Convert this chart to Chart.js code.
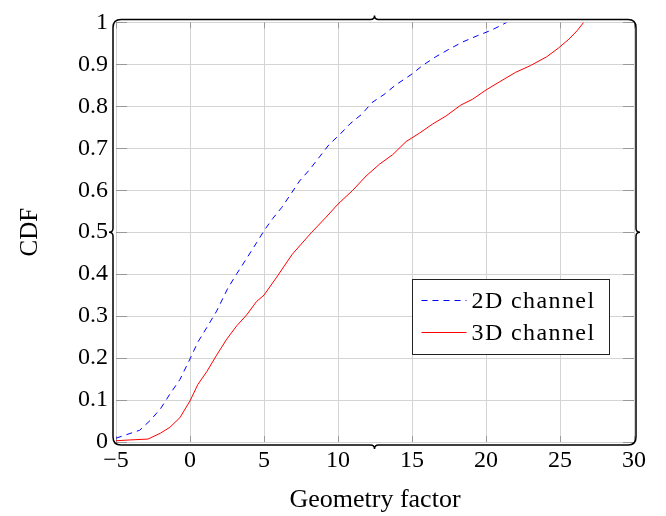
<!DOCTYPE html>
<html>
<head>
<meta charset="utf-8">
<script src="https://cdn.jsdelivr.net/npm/chart.js@4"></script>
<style>
  html, body { margin: 0; padding: 0; background: #fff; }
  #wrap { width: 666px; height: 516px; }
</style>
</head>
<body>
<div id="wrap"><canvas id="cdfChart" width="666" height="516"></canvas></div>
<script>
// values
const x2D = [-5, -4.5, -3.4, -2.7, -2.0, -1.36, -0.68, 0, 0.53, 1.14, 1.8, 2.55, 3.16, 3.8, 4.5, 5.05, 5.6, 6.2, 6.87, 7.4, 8.1, 8.76, 9.4, 10.1, 10.8, 11.6, 12.3, 13.1, 13.9, 15, 15.7, 16.6, 17.5, 18.4, 19.4, 20.4, 21.4];
const cdf2D = [0.009, 0.015, 0.028, 0.051, 0.079, 0.114, 0.149, 0.198, 0.238, 0.273, 0.312, 0.366, 0.401, 0.436, 0.475, 0.506, 0.533, 0.559, 0.594, 0.622, 0.65, 0.68, 0.709, 0.732, 0.758, 0.781, 0.809, 0.828, 0.851, 0.877, 0.897, 0.918, 0.936, 0.953, 0.968, 0.982, 1.0];

const x3D = [-5, -4, -2.84, -2.0, -1.36, -0.68, 0, 0.53, 1.14, 1.8, 2.48, 3.16, 3.83, 4.5, 5.0, 5.86, 6.9, 8.2, 9.2, 10, 11, 11.9, 12.8, 13.7, 14.6, 15.5, 16.4, 17.3, 18.3, 19.1, 20, 20.9, 22.0, 23.0, 24.1, 24.9, 25.6, 26.15, 26.6];
const cdf3D = [0.003, 0.005, 0.007, 0.021, 0.035, 0.058, 0.098, 0.137, 0.168, 0.207, 0.245, 0.277, 0.303, 0.335, 0.35, 0.393, 0.447, 0.499, 0.536, 0.567, 0.6, 0.634, 0.662, 0.685, 0.716, 0.736, 0.758, 0.777, 0.803, 0.817, 0.839, 0.858, 0.881, 0.897, 0.918, 0.939, 0.96, 0.98, 1.0];

const seriesNames = ['2D channel', '3D channel'];
const xTicks = [-5, 0, 5, 10, 15, 20, 25, 30];
const yTicks = [0, 0.1, 0.2, 0.3, 0.4, 0.5, 0.6, 0.7, 0.8, 0.9, 1];

const serif = '"Liberation Serif", "DejaVu Serif", serif';
const toPoints = (xs, ys) => xs.map((x, i) => ({ x: x, y: ys[i] }));

// frame with braces, inner tick marks and the legend box
const decor = {
  id: 'decor',
  beforeDatasetsDraw(chart) {
    const { ctx, chartArea: a, scales } = chart;
    ctx.save();
    ctx.strokeStyle = '#999';
    ctx.lineWidth = 1;
    ctx.beginPath();
    xTicks.forEach(v => {
      const px = Math.round(scales.x.getPixelForValue(v)) + 0.5;
      ctx.moveTo(px, a.top); ctx.lineTo(px, a.top + 6);
      ctx.moveTo(px, a.bottom); ctx.lineTo(px, a.bottom - 6);
    });
    yTicks.forEach(v => {
      const py = Math.round(scales.y.getPixelForValue(v)) + 0.5;
      ctx.moveTo(a.left, py); ctx.lineTo(a.left + 11, py);
      ctx.moveTo(a.right, py); ctx.lineTo(a.right - 11, py);
    });
    ctx.stroke();
    ctx.restore();
  },
  afterDraw(chart) {
    const { ctx, chartArea: a } = chart;
    const L = a.left - 3, R = a.right + 2, T = a.top - 3, B = a.bottom + 3;
    const r = 8, t = 4;
    const mx = (L + R) / 2, my = (T + B) / 2;
    ctx.save();
    ctx.strokeStyle = '#000';
    ctx.lineWidth = 1.5;
    ctx.beginPath();
    // top
    ctx.moveTo(L, T + r);
    ctx.quadraticCurveTo(L, T, L + r, T);
    ctx.lineTo(mx - t, T);
    ctx.quadraticCurveTo(mx, T, mx, T - t);
    ctx.quadraticCurveTo(mx, T, mx + t, T);
    ctx.lineTo(R - r, T);
    ctx.quadraticCurveTo(R, T, R, T + r);
    // right
    ctx.lineTo(R, my - t);
    ctx.quadraticCurveTo(R, my, R + t, my);
    ctx.quadraticCurveTo(R, my, R, my + t);
    ctx.lineTo(R, B - r);
    ctx.quadraticCurveTo(R, B, R - r, B);
    // bottom
    ctx.lineTo(mx + t, B);
    ctx.quadraticCurveTo(mx, B, mx, B + t);
    ctx.quadraticCurveTo(mx, B, mx - t, B);
    ctx.lineTo(L + r, B);
    ctx.quadraticCurveTo(L, B, L, B - r);
    // left
    ctx.lineTo(L, my + t);
    ctx.quadraticCurveTo(L, my, L - t, my);
    ctx.quadraticCurveTo(L, my, L, my - t);
    ctx.closePath();
    ctx.stroke();

    // legend
    const bx = 412.5, by = 279.5, bw = 197, bh = 75;
    ctx.fillStyle = '#fff';
    ctx.fillRect(bx, by, bw, bh);
    ctx.strokeStyle = '#222';
    ctx.lineWidth = 1;
    ctx.strokeRect(bx, by, bw, bh);
    ctx.font = '24px ' + serif;
    ctx.letterSpacing = '1.4px';
    ctx.textBaseline = 'middle';
    ctx.fillStyle = '#000';
    chart.data.datasets.forEach((ds, i) => {
      const cy = by + 21 + i * 32;
      ctx.save();
      ctx.strokeStyle = ds.borderColor;
      ctx.lineWidth = 1;
      ctx.setLineDash(ds.borderDash || []);
      ctx.beginPath();
      ctx.moveTo(bx + 9, cy);
      ctx.lineTo(bx + 54, cy);
      ctx.stroke();
      ctx.restore();
      ctx.fillText(ds.label, bx + 59, cy + 1);
    });
    ctx.restore();
  }
};

new Chart(document.getElementById('cdfChart'), {
  type: 'scatter',
  data: {
    datasets: [
      {
        label: seriesNames[0],
        data: toPoints(x2D, cdf2D),
        showLine: true,
        borderColor: 'rgb(0, 0, 255)',
        borderWidth: 1,
        borderDash: [6, 5],
        pointRadius: 0,
        tension: 0
      },
      {
        label: seriesNames[1],
        data: toPoints(x3D, cdf3D),
        showLine: true,
        borderColor: 'rgb(255, 0, 0)',
        borderWidth: 1,
        pointRadius: 0,
        tension: 0
      }
    ]
  },
  options: {
    responsive: false,
    animation: false,
    layout: { padding: { left: 0, right: 32, top: 12, bottom: 0 } },
    plugins: { legend: { display: false }, tooltip: { enabled: false } },
    scales: {
      x: {
        type: 'linear',
        min: -5,
        max: 30,
        afterBuildTicks: s => { s.ticks = xTicks.map(v => ({ value: v })); },
        afterFit: s => { s.height = 74; },
        ticks: {
          color: '#000',
          font: { family: serif, size: 24 },
          padding: 4,
          maxRotation: 0,
          callback: v => (v < 0 ? '\u2212' + Math.abs(v) : String(v))
        },
        grid: { color: '#d4d4d4', lineWidth: 1, drawTicks: false },
        border: { display: false },
        title: {
          display: true,
          text: 'Geometry factor',
          color: '#000',
          font: { family: serif, size: 26 },
          padding: { top: 0, bottom: 0 }
        }
      },
      y: {
        type: 'linear',
        min: 0,
        max: 1,
        afterBuildTicks: s => { s.ticks = yTicks.map(v => ({ value: v })); },
        afterFit: s => { s.width = 116; },
        ticks: {
          color: '#000',
          font: { family: serif, size: 24 },
          padding: 8,
          callback: v => String(v)
        },
        grid: { color: '#d4d4d4', lineWidth: 1, drawTicks: false },
        border: { display: false },
        title: {
          display: true,
          text: 'CDF',
          color: '#000',
          font: { family: serif, size: 25 },
          padding: { top: 15, bottom: 0 }
        }
      }
    }
  },
  plugins: [decor]
});
</script>
</body>
</html>
